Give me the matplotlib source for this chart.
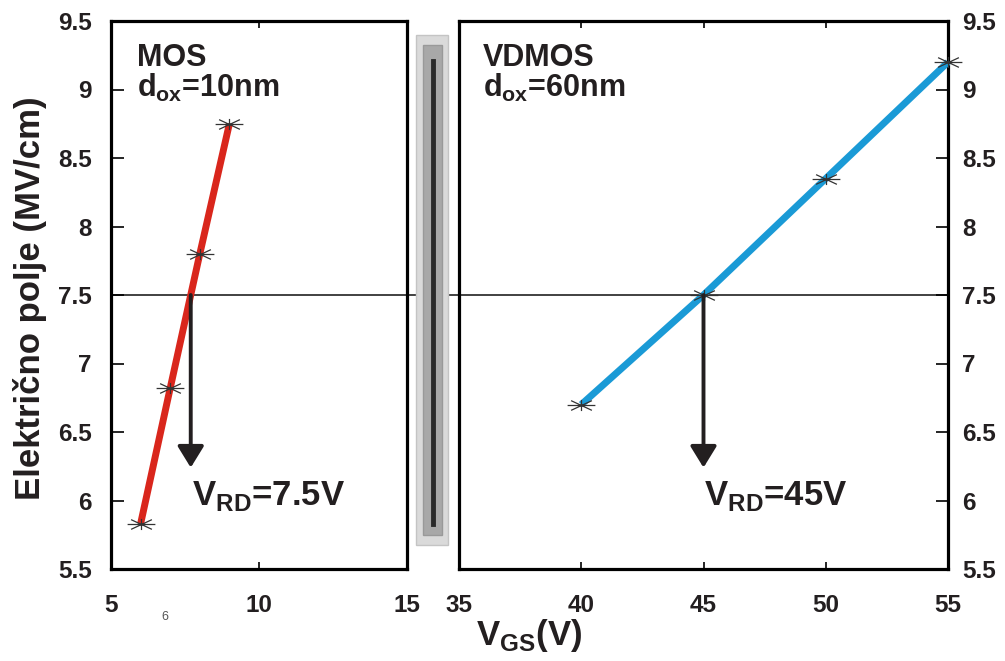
import numpy as np
import matplotlib
matplotlib.use("Agg")
import matplotlib.pyplot as plt
from matplotlib.path import Path
from matplotlib.patches import Rectangle
from matplotlib.lines import Line2D

# data
mos_vgs = [6, 7, 8, 9]
mos_field = [5.83, 6.82, 7.80, 8.75]
vdmos_vgs = [40, 45, 50, 55]
vdmos_field = [6.70, 7.50, 8.35, 9.20]
field_ticks = [5.5, 6, 6.5, 7, 7.5, 8, 8.5, 9, 9.5]
mos_xticks = [5, 10, 15]
vdmos_xticks = [35, 40, 45, 50, 55]
e_limit = 7.5

plt.rcParams['font.family'] = ['Liberation Sans', 'DejaVu Sans']
plt.rcParams['font.weight'] = 'bold'
txt = '#231f20'

# flat 8-arm asterisk like the original markers
star = Path([(-1, 0), (1, 0), (-0.75, -0.35), (0.75, 0.35),
             (-0.75, 0.35), (0.75, -0.35), (0, -0.4), (0, 0.4)],
            [Path.MOVETO, Path.LINETO] * 4)

fig = plt.figure(figsize=(10.05, 6.61), dpi=100)
W, H = 1005, 661
ax1 = fig.add_axes([111 / W, 92 / H, 296 / W, 548 / H])
ax2 = fig.add_axes([459 / W, 92 / H, 489 / W, 548 / H])
ax2.set_facecolor('none')

for ax in (ax1, ax2):
    ax.set_ylim(5.5, 9.5)
    ax.set_yticks(field_ticks)
    ax.set_yticklabels([f"{v:g}" for v in field_ticks])
    for s in ax.spines.values():
        s.set_linewidth(2.3)
        s.set_color('black')
    ax.tick_params(axis='x', direction='in', length=5, width=1.2, top=True,
                   labelsize=17.5, pad=18, labelcolor=txt)
    ax.tick_params(axis='y', direction='in', length=9, width=1.2,
                   labelsize=17.5, labelcolor=txt)

ax1.set_xlim(5, 15)
ax1.set_xticks(mos_xticks)
ax1.tick_params(axis='y', left=True, right=False, pad=14)
ax2.set_xlim(35, 55)
ax2.set_xticks(vdmos_xticks)
ax2.tick_params(axis='y', left=False, right=True, labelleft=False,
                labelright=True, pad=10)

ax1.plot(mos_vgs, mos_field, color='#d9261c', lw=5, solid_capstyle='butt',
         marker=star, ms=20, mec='#333333', mew=0.9, mfc='none', zorder=3)
ax2.plot(vdmos_vgs, vdmos_field, color='#1a9ad6', lw=5, solid_capstyle='butt',
         marker=star, ms=20, mec='#333333', mew=0.9, mfc='none', zorder=3,
         clip_on=False)

# 7.5 MV/cm line across both panels
p1, p2 = ax1.get_position(), ax2.get_position()
ax1.axhline(e_limit, xmin=0, xmax=(p2.x1 - p1.x0) / p1.width, color='#333333',
            lw=1.3, clip_on=False, zorder=1)

# arrows down from the crossing point
arrow = dict(arrowstyle='-|>,head_length=1.3,head_width=0.8', lw=2.8,
             color=txt, shrinkA=0, shrinkB=0)
x_mos = np.interp(e_limit, mos_field, mos_vgs)
x_vd = np.interp(e_limit, vdmos_field, vdmos_vgs)
ax1.annotate('', xy=(x_mos, 6.24), xytext=(x_mos, e_limit), arrowprops=arrow)
ax2.annotate('', xy=(x_vd, 6.24), xytext=(x_vd, e_limit), arrowprops=arrow)

ax1.text(0.274, 0.117, r'V$_\mathregular{RD}$=7.5V', transform=ax1.transAxes,
         fontsize=25, color=txt, va='baseline')
ax2.text(0.501, 0.117, r'V$_\mathregular{RD}$=45V', transform=ax2.transAxes,
         fontsize=25, color=txt, va='baseline')
ax1.text(0.088, 0.918, 'MOS', transform=ax1.transAxes, fontsize=22,
         color=txt, va='baseline')
ax1.text(0.088, 0.861, r'd$_\mathregular{ox}$=10nm', transform=ax1.transAxes,
         fontsize=22, color=txt, va='baseline')
ax2.text(0.049, 0.918, 'VDMOS', transform=ax2.transAxes, fontsize=22,
         color=txt, va='baseline')
ax2.text(0.049, 0.861, r'd$_\mathregular{ox}$=60nm', transform=ax2.transAxes,
         fontsize=22, color=txt, va='baseline')

fig.text(165 / W, 1 - 617 / H, '6', fontsize=9, fontweight='normal',
         color='#555555', ha='center', va='center')
fig.text(30 / W, 1 - 298 / H, 'Električno polje (MV/cm)', rotation=90,
         fontsize=25, color=txt, ha='center', va='center')
fig.text(529 / W, 1 - 645 / H, r'V$_\mathregular{GS}$(V)', fontsize=25,
         color=txt, ha='center', va='baseline')

# grey divider between panels
fig.add_artist(Rectangle((416 / W, 1 - 545 / H), 32 / W, 510 / H,
                         transform=fig.transFigure, fc='#dadada', ec='#c4c4c4',
                         lw=1, zorder=5))
fig.add_artist(Rectangle((423 / W, 1 - 535 / H), 19 / W, 490 / H,
                         transform=fig.transFigure, fc='#a8a8a8', ec='#999999',
                         lw=1, zorder=6))
fig.add_artist(Line2D([433 / W, 433 / W], [1 - 524 / H, 1 - 61 / H],
                      transform=fig.transFigure, color='#2a2a2a', lw=3.5,
                      zorder=7))

fig.savefig('out.png', dpi=100)
